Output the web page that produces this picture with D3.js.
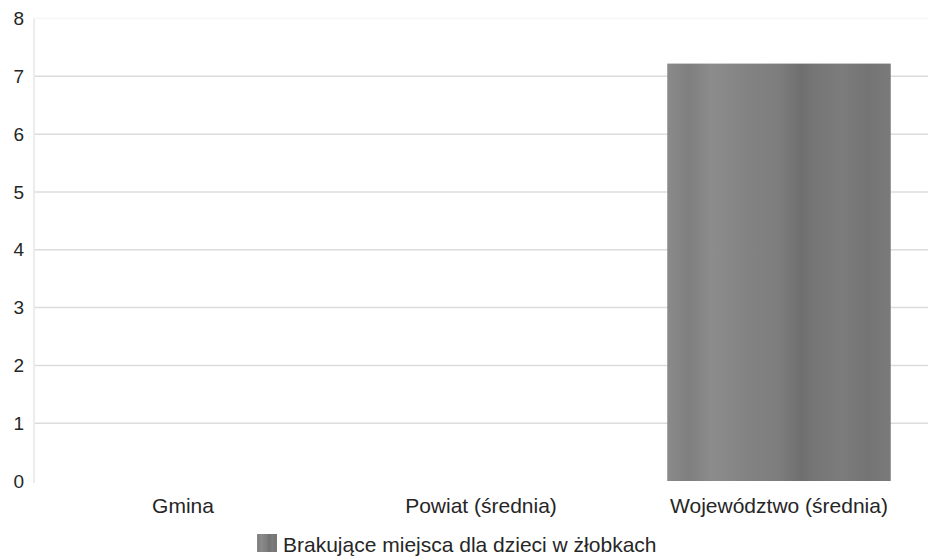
<!doctype html>
<html>
<head>
<meta charset="utf-8">
<style>
  body { margin: 0; background: #fff; }
  text { font-family: "Liberation Sans", Arial, sans-serif; fill: #262626; }
</style>
<script src="https://d3js.org/d3.v7.min.js"></script>
</head>
<body>
<svg width="928" height="558"></svg>
<script>
var categories = ["Gmina", "Powiat (średnia)", "Województwo (średnia)"];
var values = [0, 0, 7.22];
var yTicks = [0, 1, 2, 3, 4, 5, 6, 7, 8];
var seriesName = "Brakujące miejsca dla dzieci w żłobkach";

var svg = d3.select("svg");

// scanned-looking grey fill for the bar
var grad = svg.append("defs").append("linearGradient")
    .attr("id", "barFill").attr("x1", "0").attr("x2", "1").attr("y1", "0").attr("y2", "0");
[[0, "#8a8a8a"], [0.1, "#7f7f7f"], [0.2, "#8c8c8c"], [0.35, "#838383"], [0.5, "#7d7d7d"],
 [0.6, "#6f6f6f"], [0.65, "#757575"], [0.78, "#7c7c7c"], [0.9, "#747474"], [1, "#7a7a7a"]]
  .forEach(function(s) { grad.append("stop").attr("offset", s[0]).attr("stop-color", s[1]); });

var x = d3.scaleBand().domain(categories).range([34, 928])
    .paddingInner(0.25).paddingOuter(0.125);
var y = d3.scaleLinear().domain([0, 8]).range([481, 18.5]);

// gridlines
svg.append("g").selectAll("line").data(yTicks.slice(1)).enter().append("line")
   .attr("x1", 34).attr("x2", 928)
   .attr("y1", function(d) { return y(d); }).attr("y2", function(d) { return y(d); })
   .attr("stroke", function(d) { return d === 8 ? "#f6f6f6" : "#dcdcdc"; })
   .attr("stroke-width", 1.5);

// y axis line
svg.append("line").attr("x1", 34).attr("x2", 34).attr("y1", y(8)).attr("y2", y(0) + 2)
   .attr("stroke", "#ececec").attr("stroke-width", 2);

var yAxis = svg.append("g").attr("transform", "translate(24,0)")
   .call(d3.axisLeft(y).tickValues(yTicks).tickSize(0).tickPadding(0).tickFormat(d3.format("d")));
yAxis.select(".domain").remove();
yAxis.selectAll("text").style("font-size", "19px").attr("fill", "#262626");

// bars
svg.append("g").selectAll("rect").data(values).enter().append("rect")
   .attr("x", function(d, i) { return x(categories[i]); })
   .attr("y", function(d) { return y(d); })
   .attr("width", x.bandwidth())
   .attr("height", function(d) { return y(0) - y(d); })
   .attr("fill", "url(#barFill)");

// x axis labels
var xAxis = svg.append("g").attr("transform", "translate(0," + y(0) + ")")
   .call(d3.axisBottom(x).tickSize(0).tickPadding(17));
xAxis.select(".domain").remove();
xAxis.selectAll("text").style("font-size", "21px").attr("fill", "#262626");

// legend
var legend = svg.append("g").attr("transform", "translate(257,534)");
legend.append("rect").attr("width", 20).attr("height", 18).attr("fill", "url(#barFill)");
legend.append("text").attr("x", 26).attr("y", 18).style("font-size", "21px").text(seriesName);
</script>
</body>
</html>
